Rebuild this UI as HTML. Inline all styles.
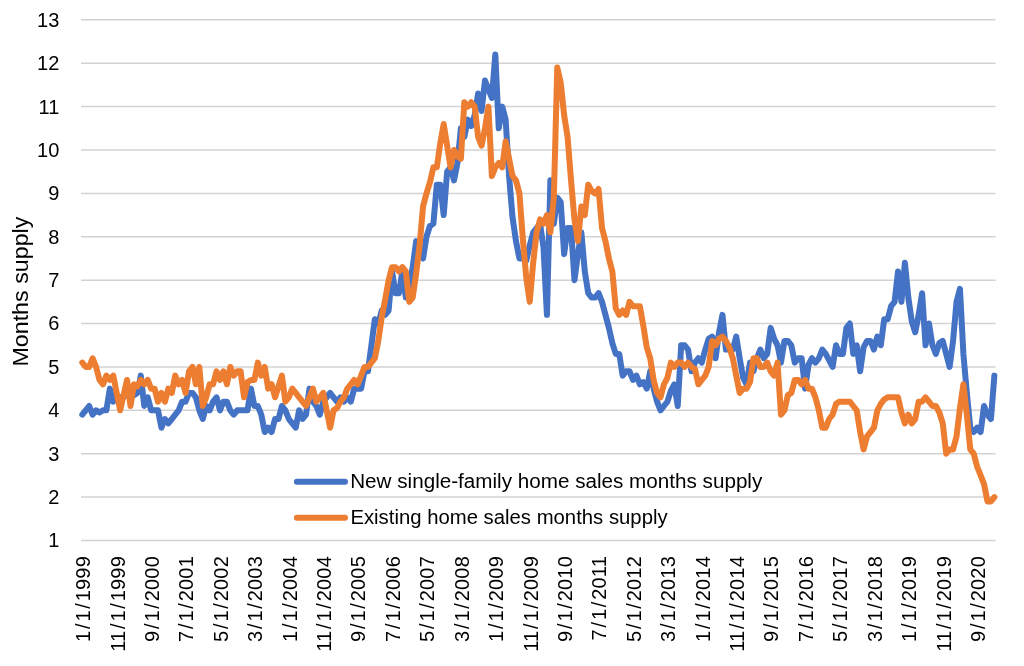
<!DOCTYPE html>
<html lang="en"><head><meta charset="utf-8"><title>Months supply</title>
<style>html,body{margin:0;padding:0;background:#fff;}body{width:1024px;height:666px;overflow:hidden;}svg{display:block;}text{font-family:"Liberation Sans",sans-serif;fill:#000;}</style></head><body>
<svg width="1024" height="666" viewBox="0 0 1024 666">
<rect width="1024" height="666" fill="#fff"/>
<g stroke="#d3d3d3" stroke-width="1.5">
<line x1="81.0" x2="995.6" y1="540.50" y2="540.50"/>
<line x1="81.0" x2="995.6" y1="497.11" y2="497.11"/>
<line x1="81.0" x2="995.6" y1="453.72" y2="453.72"/>
<line x1="81.0" x2="995.6" y1="410.33" y2="410.33"/>
<line x1="81.0" x2="995.6" y1="366.94" y2="366.94"/>
<line x1="81.0" x2="995.6" y1="323.55" y2="323.55"/>
<line x1="81.0" x2="995.6" y1="280.16" y2="280.16"/>
<line x1="81.0" x2="995.6" y1="236.77" y2="236.77"/>
<line x1="81.0" x2="995.6" y1="193.38" y2="193.38"/>
<line x1="81.0" x2="995.6" y1="149.99" y2="149.99"/>
<line x1="81.0" x2="995.6" y1="106.60" y2="106.60"/>
<line x1="81.0" x2="995.6" y1="63.21" y2="63.21"/>
<line x1="81.0" x2="995.6" y1="19.82" y2="19.82"/>
</g>
<g font-size="20" text-anchor="end">
<text x="59.3" y="547.40">1</text>
<text x="59.3" y="504.01">2</text>
<text x="59.3" y="460.62">3</text>
<text x="59.3" y="417.23">4</text>
<text x="59.3" y="373.84">5</text>
<text x="59.3" y="330.45">6</text>
<text x="59.3" y="287.06">7</text>
<text x="59.3" y="243.67">8</text>
<text x="59.3" y="200.28">9</text>
<text x="59.3" y="156.89">10</text>
<text x="59.3" y="113.50">11</text>
<text x="59.3" y="70.11">12</text>
<text x="59.3" y="26.72">13</text>
</g>
<text transform="translate(27.8,291.6) rotate(-90)" font-size="22" text-anchor="middle" textLength="150" lengthAdjust="spacingAndGlyphs">Months supply</text>
<g font-size="20" text-anchor="end">
<text transform="translate(90.10,556.0) rotate(-90)" letter-spacing="0.2" dx="0 1.6 1.6 1.6 1.6 0 0 0">1/1/1999</text>
<text transform="translate(124.52,556.0) rotate(-90)" letter-spacing="0.2" dx="0 0 1.6 1.6 1.6 1.6 0 0 0">11/1/1999</text>
<text transform="translate(158.94,556.0) rotate(-90)" letter-spacing="0.2" dx="0 1.6 1.6 1.6 1.6 0 0 0">9/1/2000</text>
<text transform="translate(193.35,556.0) rotate(-90)" letter-spacing="0.2" dx="0 1.6 1.6 1.6 1.6 0 0 0">7/1/2001</text>
<text transform="translate(227.77,556.0) rotate(-90)" letter-spacing="0.2" dx="0 1.6 1.6 1.6 1.6 0 0 0">5/1/2002</text>
<text transform="translate(262.19,556.0) rotate(-90)" letter-spacing="0.2" dx="0 1.6 1.6 1.6 1.6 0 0 0">3/1/2003</text>
<text transform="translate(296.61,556.0) rotate(-90)" letter-spacing="0.2" dx="0 1.6 1.6 1.6 1.6 0 0 0">1/1/2004</text>
<text transform="translate(331.03,556.0) rotate(-90)" letter-spacing="0.2" dx="0 0 1.6 1.6 1.6 1.6 0 0 0">11/1/2004</text>
<text transform="translate(365.44,556.0) rotate(-90)" letter-spacing="0.2" dx="0 1.6 1.6 1.6 1.6 0 0 0">9/1/2005</text>
<text transform="translate(399.86,556.0) rotate(-90)" letter-spacing="0.2" dx="0 1.6 1.6 1.6 1.6 0 0 0">7/1/2006</text>
<text transform="translate(434.28,556.0) rotate(-90)" letter-spacing="0.2" dx="0 1.6 1.6 1.6 1.6 0 0 0">5/1/2007</text>
<text transform="translate(468.70,556.0) rotate(-90)" letter-spacing="0.2" dx="0 1.6 1.6 1.6 1.6 0 0 0">3/1/2008</text>
<text transform="translate(503.12,556.0) rotate(-90)" letter-spacing="0.2" dx="0 1.6 1.6 1.6 1.6 0 0 0">1/1/2009</text>
<text transform="translate(537.53,556.0) rotate(-90)" letter-spacing="0.2" dx="0 0 1.6 1.6 1.6 1.6 0 0 0">11/1/2009</text>
<text transform="translate(571.95,556.0) rotate(-90)" letter-spacing="0.2" dx="0 1.6 1.6 1.6 1.6 0 0 0">9/1/2010</text>
<text transform="translate(606.37,556.0) rotate(-90)" letter-spacing="0.2" dx="0 1.6 1.6 1.6 1.6 0 0 0">7/1/2011</text>
<text transform="translate(640.79,556.0) rotate(-90)" letter-spacing="0.2" dx="0 1.6 1.6 1.6 1.6 0 0 0">5/1/2012</text>
<text transform="translate(675.21,556.0) rotate(-90)" letter-spacing="0.2" dx="0 1.6 1.6 1.6 1.6 0 0 0">3/1/2013</text>
<text transform="translate(709.62,556.0) rotate(-90)" letter-spacing="0.2" dx="0 1.6 1.6 1.6 1.6 0 0 0">1/1/2014</text>
<text transform="translate(744.04,556.0) rotate(-90)" letter-spacing="0.2" dx="0 0 1.6 1.6 1.6 1.6 0 0 0">11/1/2014</text>
<text transform="translate(778.46,556.0) rotate(-90)" letter-spacing="0.2" dx="0 1.6 1.6 1.6 1.6 0 0 0">9/1/2015</text>
<text transform="translate(812.88,556.0) rotate(-90)" letter-spacing="0.2" dx="0 1.6 1.6 1.6 1.6 0 0 0">7/1/2016</text>
<text transform="translate(847.30,556.0) rotate(-90)" letter-spacing="0.2" dx="0 1.6 1.6 1.6 1.6 0 0 0">5/1/2017</text>
<text transform="translate(881.71,556.0) rotate(-90)" letter-spacing="0.2" dx="0 1.6 1.6 1.6 1.6 0 0 0">3/1/2018</text>
<text transform="translate(916.13,556.0) rotate(-90)" letter-spacing="0.2" dx="0 1.6 1.6 1.6 1.6 0 0 0">1/1/2019</text>
<text transform="translate(950.55,556.0) rotate(-90)" letter-spacing="0.2" dx="0 0 1.6 1.6 1.6 1.6 0 0 0">11/1/2019</text>
<text transform="translate(984.97,556.0) rotate(-90)" letter-spacing="0.2" dx="0 1.6 1.6 1.6 1.6 0 0 0">9/1/2020</text>
</g>
<path d="M82.30,414.67 L85.74,410.33 L89.18,405.99 L92.63,414.67 L96.07,410.33 L99.51,412.50 L102.95,410.33 L106.39,410.33 L109.83,388.63 L113.28,401.65 L116.72,397.31 L120.16,397.31 L123.60,397.31 L127.04,392.97 L130.49,397.31 L133.93,395.14 L137.37,392.97 L140.81,375.62 L144.25,405.99 L147.69,397.31 L151.14,410.33 L154.58,410.33 L158.02,410.33 L161.46,427.69 L164.90,419.01 L168.34,423.35 L171.79,419.01 L175.23,414.67 L178.67,410.33 L182.11,401.65 L185.55,401.65 L189.00,392.97 L192.44,392.97 L195.88,397.31 L199.32,410.33 L202.76,419.01 L206.20,405.99 L209.65,410.33 L213.09,401.65 L216.53,397.31 L219.97,410.33 L223.41,401.65 L226.86,401.65 L230.30,410.33 L233.74,414.67 L237.18,410.33 L240.62,410.33 L244.06,410.33 L247.51,410.33 L250.95,388.63 L254.39,405.99 L257.83,405.99 L261.27,414.67 L264.72,432.02 L268.16,427.69 L271.60,432.02 L275.04,419.01 L278.48,419.01 L281.92,405.99 L285.37,410.33 L288.81,419.01 L292.25,423.35 L295.69,427.69 L299.13,410.33 L302.58,419.01 L306.02,414.67 L309.46,388.63 L312.90,401.65 L316.34,405.99 L319.78,414.67 L323.23,401.65 L326.67,397.31 L330.11,392.97 L333.55,397.31 L336.99,401.65 L340.44,397.31 L343.88,401.65 L347.32,397.31 L350.76,401.65 L354.20,388.63 L357.64,388.63 L361.09,388.63 L364.53,371.28 L367.97,371.28 L371.41,345.25 L374.85,319.21 L378.29,323.55 L381.74,310.53 L385.18,314.87 L388.62,310.53 L392.06,271.48 L395.50,293.18 L398.95,293.18 L402.39,271.48 L405.83,297.52 L409.27,284.50 L412.71,267.14 L416.15,241.11 L419.60,254.13 L423.04,258.46 L426.48,236.77 L429.92,225.92 L433.36,223.75 L436.81,184.70 L440.25,184.70 L443.69,215.07 L447.13,171.69 L450.57,167.35 L454.01,180.36 L457.46,163.01 L460.90,128.30 L464.34,136.97 L467.78,119.62 L471.22,126.13 L474.67,115.28 L478.11,93.58 L481.55,110.94 L484.99,80.57 L488.43,89.24 L491.87,97.92 L495.32,54.53 L498.76,128.30 L502.20,106.60 L505.64,119.62 L509.08,176.02 L512.52,217.24 L515.97,241.11 L519.41,258.46 L522.85,258.46 L526.29,260.63 L529.73,245.45 L533.18,232.43 L536.62,228.09 L540.06,223.75 L543.50,247.62 L546.94,314.87 L550.38,180.36 L553.83,223.75 L557.27,197.72 L560.71,202.06 L564.15,254.13 L567.59,228.09 L571.04,228.09 L574.48,280.16 L577.92,254.13 L581.36,232.43 L584.80,271.48 L588.24,293.18 L591.69,297.52 L595.13,297.52 L598.57,293.18 L602.01,301.86 L605.45,314.87 L608.90,327.89 L612.34,343.08 L615.78,353.92 L619.22,353.92 L622.66,375.62 L626.10,371.28 L629.55,371.28 L632.99,379.96 L636.43,375.62 L639.87,384.30 L643.31,382.13 L646.76,388.63 L650.20,371.28 L653.64,388.63 L657.08,401.65 L660.52,410.33 L663.96,405.99 L667.41,401.65 L670.85,390.80 L674.29,384.30 L677.73,405.99 L681.17,345.25 L684.62,345.25 L688.06,349.58 L691.50,371.28 L694.94,362.60 L698.38,358.26 L701.82,362.60 L705.27,349.58 L708.71,338.74 L712.15,336.57 L715.59,358.26 L719.03,332.23 L722.47,314.87 L725.92,349.58 L729.36,349.58 L732.80,349.58 L736.24,336.57 L739.68,358.26 L743.13,377.79 L746.57,384.30 L750.01,362.60 L753.45,371.28 L756.89,358.26 L760.33,349.58 L763.78,358.26 L767.22,353.92 L770.66,327.89 L774.10,338.74 L777.54,345.25 L780.99,362.60 L784.43,340.91 L787.87,340.91 L791.31,345.25 L794.75,362.60 L798.19,358.26 L801.64,358.26 L805.08,388.63 L808.52,364.77 L811.96,358.26 L815.40,362.60 L818.85,358.26 L822.29,349.58 L825.73,353.92 L829.17,360.43 L832.61,366.94 L836.05,345.25 L839.50,353.92 L842.94,353.92 L846.38,327.89 L849.82,323.55 L853.26,353.92 L856.71,345.25 L860.15,371.28 L863.59,347.41 L867.03,340.91 L870.47,340.91 L873.91,349.58 L877.36,336.57 L880.80,345.25 L884.24,319.21 L887.68,319.21 L891.12,306.19 L894.56,301.86 L898.01,271.48 L901.45,301.86 L904.89,262.80 L908.33,297.52 L911.77,321.38 L915.22,332.23 L918.66,314.87 L922.10,293.18 L925.54,345.25 L928.98,323.55 L932.42,345.25 L935.87,353.92 L939.31,343.08 L942.75,340.91 L946.19,353.92 L949.63,366.94 L953.08,340.91 L956.52,301.86 L959.96,288.84 L963.40,353.92 L966.84,392.97 L970.28,427.69 L973.73,432.02 L977.17,427.69 L980.61,432.02 L984.05,405.99 L987.49,414.67 L990.94,419.01 L994.38,375.62" fill="none" stroke="#4472c4" stroke-width="6" stroke-linejoin="round" stroke-linecap="round"/>
<path d="M82.30,362.60 L85.74,366.94 L89.18,366.94 L92.63,358.26 L96.07,366.94 L99.51,379.96 L102.95,384.30 L106.39,375.62 L109.83,379.96 L113.28,375.62 L116.72,392.97 L120.16,410.33 L123.60,395.14 L127.04,379.96 L130.49,405.99 L133.93,384.30 L137.37,386.47 L140.81,379.96 L144.25,384.30 L147.69,379.96 L151.14,388.63 L154.58,388.63 L158.02,401.65 L161.46,392.97 L164.90,401.65 L168.34,388.63 L171.79,392.97 L175.23,375.62 L178.67,384.30 L182.11,379.96 L185.55,392.97 L189.00,371.28 L192.44,366.94 L195.88,384.30 L199.32,366.94 L202.76,405.99 L206.20,397.31 L209.65,384.30 L213.09,384.30 L216.53,371.28 L219.97,379.96 L223.41,371.28 L226.86,384.30 L230.30,366.94 L233.74,375.62 L237.18,371.28 L240.62,371.28 L244.06,397.31 L247.51,382.13 L250.95,379.96 L254.39,379.96 L257.83,362.60 L261.27,375.62 L264.72,366.94 L268.16,388.63 L271.60,384.30 L275.04,397.31 L278.48,386.47 L281.92,375.62 L285.37,401.65 L288.81,397.31 L292.25,388.63 L295.69,392.97 L299.13,397.31 L302.58,401.65 L306.02,405.99 L309.46,397.31 L312.90,388.63 L316.34,401.65 L319.78,397.31 L323.23,392.97 L326.67,410.33 L330.11,427.69 L333.55,410.33 L336.99,408.16 L340.44,401.65 L343.88,397.31 L347.32,388.63 L350.76,384.30 L354.20,379.96 L357.64,384.30 L361.09,375.62 L364.53,366.94 L367.97,366.94 L371.41,362.60 L374.85,358.26 L378.29,340.91 L381.74,317.04 L385.18,299.69 L388.62,280.16 L392.06,267.14 L395.50,267.14 L398.95,271.48 L402.39,267.14 L405.83,271.48 L409.27,301.86 L412.71,297.52 L416.15,273.65 L419.60,245.45 L423.04,206.40 L426.48,193.38 L429.92,182.53 L433.36,167.35 L436.81,167.35 L440.25,143.48 L443.69,123.96 L447.13,145.65 L450.57,167.35 L454.01,149.99 L457.46,156.50 L460.90,158.67 L464.34,102.26 L467.78,106.60 L471.22,102.26 L474.67,106.60 L478.11,136.97 L481.55,145.65 L484.99,128.30 L488.43,106.60 L491.87,176.02 L495.32,167.35 L498.76,163.01 L502.20,167.35 L505.64,141.31 L509.08,158.67 L512.52,176.02 L515.97,180.36 L519.41,193.38 L522.85,238.94 L526.29,277.99 L529.73,301.86 L533.18,262.80 L536.62,232.43 L540.06,219.41 L543.50,223.75 L546.94,215.07 L550.38,232.43 L553.83,197.72 L557.27,67.55 L560.71,82.74 L564.15,115.28 L567.59,136.97 L571.04,180.36 L574.48,219.41 L577.92,241.11 L581.36,206.40 L584.80,215.07 L588.24,184.70 L591.69,191.21 L595.13,193.38 L598.57,189.04 L602.01,228.09 L605.45,241.11 L608.90,258.46 L612.34,271.48 L615.78,308.36 L619.22,314.87 L622.66,310.53 L626.10,314.87 L629.55,301.86 L632.99,306.19 L636.43,306.19 L639.87,306.19 L643.31,325.72 L646.76,347.41 L650.20,358.26 L653.64,379.96 L657.08,392.97 L660.52,397.31 L663.96,384.30 L667.41,377.79 L670.85,362.60 L674.29,366.94 L677.73,362.60 L681.17,362.60 L684.62,366.94 L688.06,362.60 L691.50,366.94 L694.94,369.11 L698.38,384.30 L701.82,379.96 L705.27,375.62 L708.71,366.94 L712.15,340.91 L715.59,345.25 L719.03,338.74 L722.47,336.57 L725.92,340.91 L729.36,347.41 L732.80,358.26 L736.24,375.62 L739.68,392.97 L743.13,388.63 L746.57,388.63 L750.01,382.13 L753.45,358.26 L756.89,358.26 L760.33,366.94 L763.78,366.94 L767.22,362.60 L770.66,371.28 L774.10,375.62 L777.54,362.60 L780.99,414.67 L784.43,410.33 L787.87,395.14 L791.31,392.97 L794.75,379.96 L798.19,379.96 L801.64,384.30 L805.08,379.96 L808.52,388.63 L811.96,388.63 L815.40,397.31 L818.85,410.33 L822.29,427.69 L825.73,427.69 L829.17,419.01 L832.61,414.67 L836.05,403.82 L839.50,401.65 L842.94,401.65 L846.38,401.65 L849.82,401.65 L853.26,405.99 L856.71,410.33 L860.15,432.02 L863.59,449.38 L867.03,436.36 L870.47,432.02 L873.91,427.69 L877.36,410.33 L880.80,403.82 L884.24,399.48 L887.68,397.31 L891.12,397.31 L894.56,397.31 L898.01,397.31 L901.45,412.50 L904.89,423.35 L908.33,414.67 L911.77,423.35 L915.22,419.01 L918.66,401.65 L922.10,401.65 L925.54,397.31 L928.98,401.65 L932.42,405.99 L935.87,405.99 L939.31,412.50 L942.75,423.35 L946.19,453.72 L949.63,449.38 L953.08,449.38 L956.52,436.36 L959.96,408.16 L963.40,384.30 L966.84,414.67 L970.28,449.38 L973.73,453.72 L977.17,466.74 L980.61,475.41 L984.05,484.09 L987.49,501.45 L990.94,501.45 L994.38,497.11" fill="none" stroke="#ed7d31" stroke-width="6" stroke-linejoin="round" stroke-linecap="round"/>
<line x1="296.9" x2="345.0" y1="481.7" y2="481.7" stroke="#4472c4" stroke-width="6" stroke-linecap="round"/>
<line x1="296.9" x2="345.0" y1="517.8" y2="517.8" stroke="#ed7d31" stroke-width="6" stroke-linecap="round"/>
<text x="350.2" y="488" font-size="19.6" textLength="412.1" lengthAdjust="spacingAndGlyphs">New single-family home sales months supply</text>
<text x="350.4" y="524" font-size="19.6" textLength="317.2" lengthAdjust="spacingAndGlyphs">Existing home sales months supply</text>
</svg></body></html>
